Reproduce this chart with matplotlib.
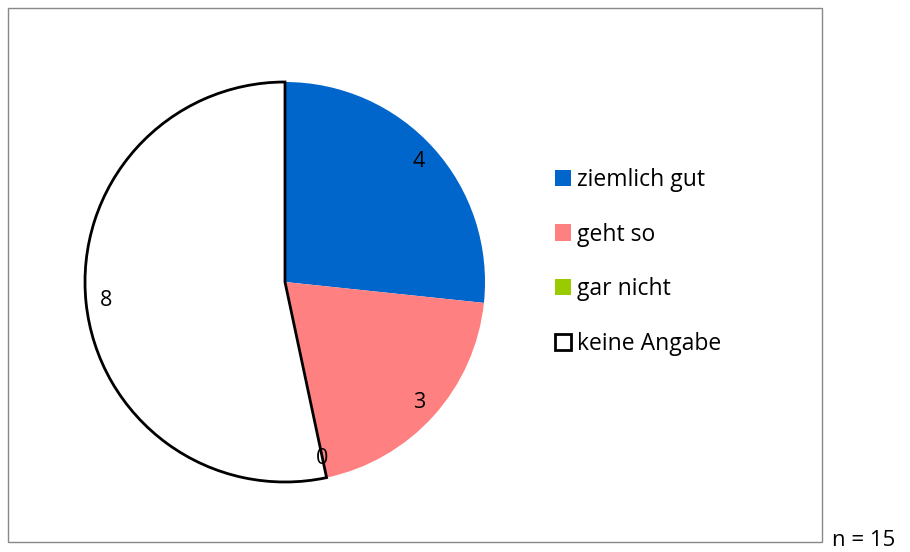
import matplotlib.pyplot as plt
from matplotlib.patches import Rectangle, Patch

categories = ['ziemlich gut', 'geht so', 'gar nicht', 'keine Angabe']
counts = [4, 3, 0, 8]
colors = ['#0066CC', '#FF8080', '#99CC00', '#FFFFFF']
n_total = 15

plt.rcParams['font.family'] = ['Open Sans', 'DejaVu Sans']

W, H = 910, 552
fig = plt.figure(figsize=(W / 100, H / 100), dpi=100)

# outer chart frame
fig.patches.append(Rectangle((8 / W, 10 / H), 814 / W, 534 / H, transform=fig.transFigure,
                             fill=False, edgecolor='#888888', linewidth=1))

# pie centred at (285, 282) px, radius ~200 px
r = 202
ax = fig.add_axes([(285 - r) / W, (H - 282 - r) / H, 2 * r / W, 2 * r / H])
wedges, texts = ax.pie(counts, colors=colors, startangle=90, counterclock=False,
                       labels=[str(c) for c in counts], labeldistance=0.9,
                       textprops={'fontsize': 15.5, 'color': 'black'},
                       wedgeprops={'linewidth': 0})
for t in texts:
  t.set_ha('center')
  t.set_va('center')
wedges[3].set_edgecolor('black')
wedges[3].set_linewidth(2)
ax.set_xlim(-1.01, 1.01)
ax.set_ylim(-1.01, 1.01)
ax.set_aspect('equal')
ax.axis('off')

handles = [Patch(facecolor=c, edgecolor='black' if c == '#FFFFFF' else c,
                 linewidth=2 if c == '#FFFFFF' else 0) for c in colors]
fig.legend(handles, categories, loc='center left', bbox_to_anchor=(555 / W, (H - 262) / H),
           frameon=False, fontsize=16.5, handlelength=0.7, handleheight=0.7,
           handletextpad=0.25, labelspacing=1.35, borderpad=0, borderaxespad=0)

fig.text(832 / W, 12 / H, f'n = {n_total}', fontsize=16, ha='left', va='center')

fig.savefig('out.png', dpi=100)
